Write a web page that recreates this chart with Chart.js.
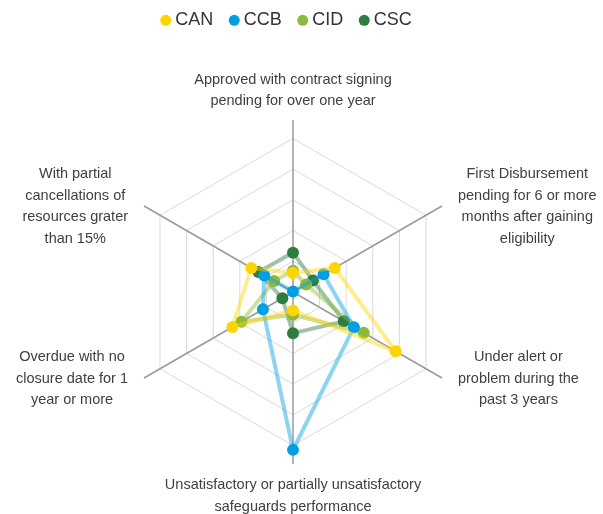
<!DOCTYPE html>
<html lang="en">
<head>
    <meta charset="UTF-8">
    <title>Portfolio Alerts Radar</title>
    <script src="https://cdn.jsdelivr.net/npm/chart.js"></script>
    <style>
        html, body { margin: 0; padding: 0; background: #fff; }
        #wrap { width: 603px; height: 514px; }
    </style>
</head>
<body>
    <div id="wrap">
        <canvas id="radarChart"></canvas>
    </div>
    <script>
        // axis labels, clockwise from the top
        const categories = [
            ["Approved with contract signing", "pending for over one year"],
            ["First Disbursement", "pending for 6 or more", "months after gaining", "eligibility"],
            ["Under alert or", "problem during the", "past 3 years"],
            ["Unsatisfactory or partially unsatisfactory", "safeguards performance"],
            ["Overdue with no", "closure date for 1", "year or more"],
            ["With partial", "cancellations of", "resources grater", "than 15%"]
        ];

        // values (one ring = 1)
        const canValues = [0.62, 1.57, 3.86, 0.60, 2.28, 1.57];
        const ccbValues = [0.02, 1.15, 2.29, 5.14, 1.13, 1.08];
        const cidValues = [0.69, 0.49, 2.66, 0.74, 1.94, 0.71];
        const cscValues = [1.28, 0.75, 1.91, 1.34, 0.40, 1.30];

        const colors = {
            CAN: "#FFD500",
            CCB: "#009FE3",
            CID: "#8CBB3C",
            CSC: "#2E7D3F"
        };

        const FONT = "'Liberation Sans', Arial, sans-serif";

        function fade(hex, a) {
            const n = parseInt(hex.slice(1), 16);
            return `rgba(${n >> 16}, ${(n >> 8) & 255}, ${n & 255}, ${a})`;
        }

        function makeSet(label, values) {
            return {
                label: label,
                data: values,
                borderColor: fade(colors[label], 0.45),
                backgroundColor: colors[label],
                borderWidth: 4,
                fill: false,
                pointRadius: 6,
                pointHoverRadius: 6,
                pointBorderWidth: 0,
                pointBackgroundColor: colors[label]
            };
        }

        // legend drawn by hand: small dot tight against the name
        const dotLegend = {
            id: "dotLegend",
            afterDraw(chart) {
                const c = chart.ctx;
                const scale = chart.scales.r;
                const r = 5.5, gap = 4, spacing = 15.5;
                c.save();
                c.font = "18px " + FONT;
                const items = chart.data.datasets.map(ds => ({
                    label: ds.label,
                    color: ds.pointBackgroundColor,
                    w: c.measureText(ds.label).width
                }));
                const total = items.reduce((s, it) => s + 2 * r + gap + it.w, 0) + spacing * (items.length - 1);
                let x = scale.xCenter - 7 - total / 2;
                items.forEach(it => {
                    c.fillStyle = it.color;
                    c.beginPath();
                    c.arc(x + r, 20.3, r, 0, Math.PI * 2);
                    c.fill();
                    c.fillStyle = "#333";
                    c.textBaseline = "alphabetic";
                    c.fillText(it.label, x + 2 * r + gap, 24.6);
                    x += 2 * r + gap + it.w + spacing;
                });
                c.restore();
            }
        };

        // axis labels drawn centred, like the original
        const centredLabels = {
            id: "centredLabels",
            afterDraw(chart) {
                const scale = chart.scales.r;
                const c = chart.ctx;
                const lineH = 21.5;
                c.save();
                c.font = "14.5px " + FONT;
                c.fillStyle = "#404040";
                c.textAlign = "center";
                c.textBaseline = "middle";
                categories.forEach((lines, i) => {
                    const end = scale.getPointPosition(i, scale.drawingArea);
                    const dx = end.x - scale.xCenter;
                    const dy = end.y - scale.yCenter;
                    const widest = Math.max(...lines.map(t => c.measureText(t).width));
                    let cx = end.x, cy;
                    if (Math.abs(dx) < 1) {
                        // top / bottom
                        if (dy < 0) cy = end.y - 19 - (lines.length - 1) * lineH;
                        else cy = end.y + 21;
                    } else {
                        cx = end.x + Math.sign(dx) * (16 + widest / 2);
                        cy = end.y + 0.5 - (lines.length - 1) * lineH / 2;
                    }
                    lines.forEach((t, k) => c.fillText(t, cx, cy + k * lineH));
                });
                c.restore();
            }
        };

        const ctx = document.getElementById("radarChart").getContext("2d");
        new Chart(ctx, {
            type: "radar",
            data: {
                labels: categories,
                datasets: [
                    makeSet("CAN", canValues),
                    makeSet("CCB", ccbValues),
                    makeSet("CID", cidValues),
                    makeSet("CSC", cscValues)
                ]
            },
            options: {
                responsive: true,
                maintainAspectRatio: false,
                animation: false,
                layout: { padding: { left: 121, right: 138, top: 120, bottom: 50 } },
                plugins: {
                    legend: { display: false },
                    tooltip: { enabled: false }
                },
                scales: {
                    r: {
                        min: 0,
                        max: 5.6,
                        ticks: { display: false, stepSize: 1 },
                        grid: {
                            color: (c) => c.tick && c.tick.value > 5 ? "rgba(0,0,0,0)" : "#d9d9d9",
                            lineWidth: 1
                        },
                        angleLines: { color: "#9a9a9a", lineWidth: 1.5 },
                        pointLabels: { display: false }
                    }
                }
            },
            plugins: [dotLegend, centredLabels]
        });
    </script>
</body>
</html>
